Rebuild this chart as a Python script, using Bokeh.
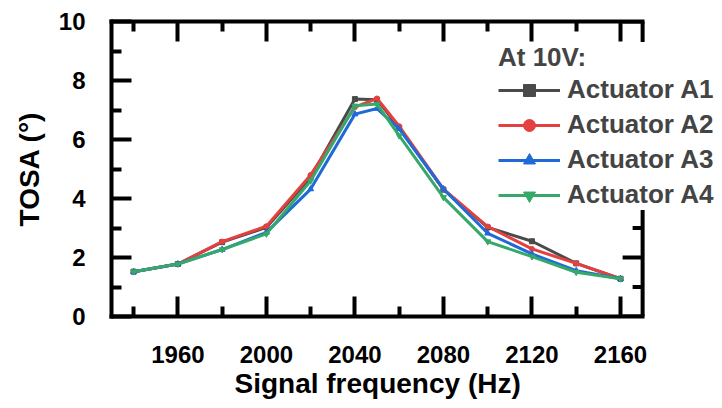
from bokeh.plotting import figure
from bokeh.models import (Range1d, LinearAxis, FixedTicker, Legend, LegendItem, Title)
from bokeh.embed import file_html
from bokeh.resources import INLINE

# ---- data ----
freq = [1940, 1960, 1980, 2000, 2020, 2040, 2050, 2060, 2080, 2100, 2120, 2140, 2160]
a1 = [1.52, 1.78, 2.52, 3.02, 4.72, 7.37, 7.35, 6.40, 4.30, 3.02, 2.55, 1.80, 1.28]
a2 = [1.52, 1.78, 2.54, 3.06, 4.80, 7.10, 7.39, 6.45, 4.32, 3.05, 2.29, 1.80, 1.28]
a3 = [1.52, 1.78, 2.27, 2.85, 4.32, 6.86, 7.05, 6.36, 4.32, 2.82, 2.12, 1.55, 1.28]
a4 = [1.52, 1.78, 2.27, 2.80, 4.60, 7.14, 7.20, 6.13, 4.04, 2.54, 2.03, 1.50, 1.28]
series_names = ["Actuator A1", "Actuator A2", "Actuator A3", "Actuator A4"]
x_major = [1960, 2000, 2040, 2080, 2120, 2160]
x_minor = [1940, 1980, 2020, 2060, 2100, 2140]
y_major = [0, 2, 4, 6, 8, 10]
y_minor = [1, 3, 5, 7, 9]
x_start, x_end = 1930, 2170      # axis box limits
y_start, y_end = 0, 10

colors = ["#4a4a4a", "#e3403f", "#1f6ad8", "#36a86a"]
markers = ["square", "circle", "triangle", "inverted_triangle"]
msizes = [5, 5, 6, 6]

FONT = "Liberation Sans"

W, H = 722, 408
LEFT, TOP, BOTTOM = 111, 21, 92
frame_w = W - LEFT
px_per_hz = 2.213
view_end = x_start + frame_w / px_per_hz   # frame extends right so the legend fits

p = figure(width=W, height=H, output_backend="svg", toolbar_location=None,
           x_range=Range1d(x_start, view_end), y_range=Range1d(y_start, y_end),
           y_axis_label="TOSA (°)")
p.min_border_left = LEFT
p.min_border_right = 0
p.min_border_top = TOP
p.min_border_bottom = BOTTOM
p.xgrid.visible = False
p.ygrid.visible = False
p.outline_line_color = None
p.background_fill_color = "white"
p.border_fill_color = "white"


def style_axis(ax, show_labels):
    ax.axis_line_width = 4
    ax.axis_line_color = "black"
    ax.axis_line_cap = "square"
    ax.major_tick_in = 20
    ax.major_tick_out = 0
    ax.minor_tick_in = 10
    ax.minor_tick_out = 0
    ax.major_tick_line_width = 4
    ax.minor_tick_line_width = 4
    ax.major_tick_line_color = "black"
    ax.minor_tick_line_color = "black"
    if show_labels:
        ax.major_label_text_font = FONT
        ax.major_label_text_font_style = "bold"
        ax.major_label_text_font_size = "24px"
        ax.major_label_text_color = "black"
        ax.axis_label_text_font = FONT
        ax.axis_label_text_font_style = "bold"
        ax.axis_label_text_font_size = "28px"
        ax.axis_label_text_color = "black"
    else:
        ax.major_label_text_font_size = "0px"
        ax.major_label_standoff = 0


xa = p.xaxis[0]
xa.ticker = FixedTicker(ticks=x_major, minor_ticks=x_minor)
xa.bounds = (x_start, x_end)
style_axis(xa, True)
xa.major_label_standoff = 29

ya = p.yaxis[0]
ya.ticker = FixedTicker(ticks=y_major, minor_ticks=y_minor)
style_axis(ya, True)
ya.major_label_standoff = 26
ya.axis_label_standoff = 11

top = LinearAxis(ticker=FixedTicker(ticks=x_major, minor_ticks=x_minor), bounds=(x_start, x_end))
style_axis(top, False)
p.add_layout(top, "above")

# x-axis title, centred under the axis box
xt = Title(text="Signal frequency (Hz)", align="left", offset=123,
           text_font=FONT, text_font_style="bold", text_font_size="28px",
           text_color="black", standoff=0)
p.add_layout(xt, "below")

# right side of the axis box at x_end, with inward ticks
p.line(x=[x_end, x_end], y=[y_start, y_end], line_color="black", line_width=4)
p.multi_line(xs=[[x_end, x_end - 20 / px_per_hz] for _ in y_major],
             ys=[[v, v] for v in y_major], line_color="black", line_width=4)
p.multi_line(xs=[[x_end, x_end - 10 / px_per_hz] for _ in y_minor],
             ys=[[v, v] for v in y_minor], line_color="black", line_width=4)

items = []
for ys, name, c, m, ms in zip([a1, a2, a3, a4], series_names, colors, markers, msizes):
    r1 = p.line(freq, ys, line_color=c, line_width=3)
    r2 = p.scatter(freq, ys, marker=m, size=ms, fill_color=c, line_color=c)
    items.append(LegendItem(label=name, renderers=[r1, r2]))

legend = Legend(items=items, location=(387, 106), title="At 10V:")
legend.title_text_font = FONT
legend.title_text_font_style = "bold"
legend.title_text_font_size = "26px"
legend.title_standoff = 1
legend.label_text_font = FONT
legend.label_text_font_style = "bold"
legend.label_text_font_size = "26px"
legend.glyph_width = 62
legend.glyph_height = 30
legend.label_height = 30
legend.spacing = 4
legend.label_standoff = 7
legend.padding = 2
legend.margin = 0
legend.border_line_color = None
legend.background_fill_color = "white"
legend.background_fill_alpha = 1
p.add_layout(legend, "center")

open("out.html", "w").write(file_html(p, INLINE))
